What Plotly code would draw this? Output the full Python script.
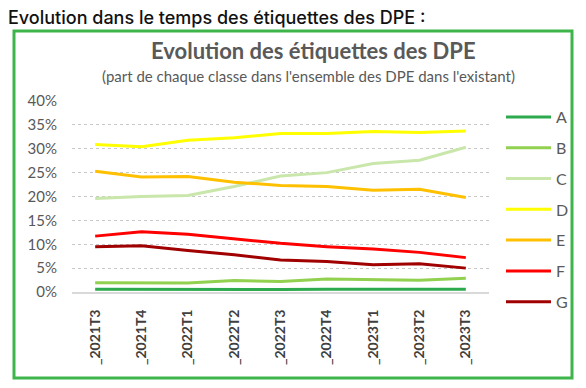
import plotly.graph_objects as go

periods = ["_2021T3", "_2021T4", "_2022T1", "_2022T2", "_2022T3", "_2022T4", "_2023T1", "_2023T2", "_2023T3"]
A = [0.6, 0.55, 0.55, 0.5, 0.5, 0.55, 0.55, 0.55, 0.55]
B = [1.95, 1.95, 1.9, 2.4, 2.2, 2.7, 2.65, 2.45, 2.9]
C = [19.6, 20.0, 20.2, 22.1, 24.3, 25.0, 26.9, 27.6, 30.3]
D = [30.9, 30.4, 31.8, 32.3, 33.2, 33.2, 33.6, 33.4, 33.7]
E = [25.3, 24.1, 24.2, 23.0, 22.3, 22.1, 21.3, 21.5, 19.8]
F = [11.7, 12.6, 12.1, 11.2, 10.2, 9.5, 9.0, 8.3, 7.2]
G = [9.5, 9.7, 8.7, 7.8, 6.7, 6.4, 5.7, 5.9, 5.0]

series = [("A", A, "#2DAA4E"), ("B", B, "#92D050"), ("C", C, "#C9E6AB"),
          ("D", D, "#FFFF00"), ("E", E, "#FFC000"), ("F", F, "#FF0000"),
          ("G", G, "#A00000")]

fig = go.Figure()
for name, vals, col in series:
    fig.add_trace(go.Scatter(
        x=periods, y=[v / 100 for v in vals], mode="lines", name=name,
        legendgroup=name, line=dict(color=col, width=3)))

OFF = 8  # page body margin
W, H = 586 - OFF, 388 - OFF
L, R, T, B_ = 72 - OFF, 489 - OFF, 101 - OFF, 292 - OFF
def px(x):
    return (x - OFF - L) / (R - L)
def py(y):
    return (B_ - (y - OFF)) / (B_ - T)

fig.update_layout(
    width=W, height=H,
    margin=dict(l=L, r=W - R, t=T, b=H - B_, autoexpand=False),
    paper_bgcolor="white", plot_bgcolor="white",
    font=dict(family="Lato, Open Sans, sans-serif", color="#595959"),
    showlegend=True,
    legend=dict(x=px(501), y=py(100), xanchor="left", yanchor="top",
                font=dict(size=16, color="#595959"), tracegroupgap=7,
                itemwidth=45, bgcolor="rgba(0,0,0,0)", maxheight=300),
    xaxis=dict(type="category", tickangle=-90, showgrid=False, range=[-0.5, 8.5],
               tickfont=dict(size=14, color="#404040", family="Lato, sans-serif"),
               showline=True, linecolor="#D9D9D9", linewidth=2,
               ticks="", ticklabelstandoff=10, automargin=False),
    yaxis=dict(range=[0, 0.4], dtick=0.05, tickformat=".0%",
               showgrid=True, gridcolor="#C8C8C8", griddash="dot", gridwidth=1,
               zeroline=False, tickfont=dict(size=15, color="#595959"),
               ticks="", ticklabelstandoff=14, automargin=False),
    shapes=[dict(type="rect", xref="paper", yref="paper",
                 x0=px(14), x1=px(572), y0=py(378), y1=py(31),
                 line=dict(color="#3DB54A", width=3), fillcolor="rgba(0,0,0,0)")],
    annotations=[
        dict(text="Evolution dans le temps des étiquettes des DPE :", xref="paper", yref="paper",
             x=px(6), y=py(17), xanchor="left", yanchor="middle", showarrow=False,
             font=dict(family="Inter, sans-serif", size=18, color="#111111", weight=500)),
        dict(text="<b>Evolution des étiquettes des DPE</b>", xref="paper", yref="paper",
             x=px(313), y=py(50), xanchor="center", yanchor="middle", showarrow=False,
             font=dict(family="Lato, sans-serif", size=22, color="#595959")),
        dict(text="(part de chaque classe dans l'ensemble des DPE dans l'existant)", xref="paper", yref="paper",
             x=px(308), y=py(76), xanchor="center", yanchor="middle", showarrow=False,
             font=dict(family="Lato, sans-serif", size=15, color="#595959")),
    ],
)
fig.update_xaxes(ticktext=["<b>" + p + "</b>" for p in periods], tickvals=periods)

fig.write_html("out.html")
